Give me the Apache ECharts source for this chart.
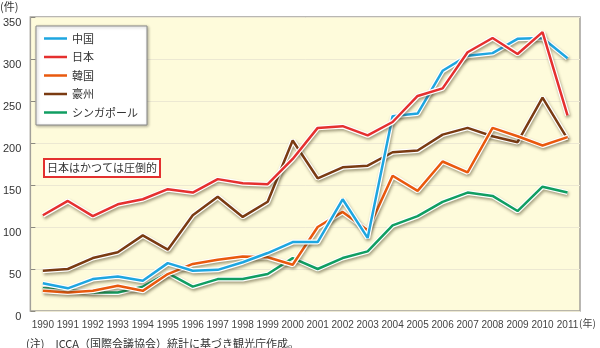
<!DOCTYPE html>
<html>
<head>
<meta charset="utf-8">
<script src="https://cdn.jsdelivr.net/npm/echarts@6/dist/echarts.min.js"></script>
<style>
  html, body { margin: 0; padding: 0; background: #fff; }
  #chart { width: 600px; height: 348px; }
</style>
</head>
<body>
<div id="chart"></div>
<script>
// 国際会議開催件数の推移（1990〜2011年）
const years = ['1990','1991','1992','1993','1994','1995','1996','1997','1998','1999','2000',
               '2001','2002','2003','2004','2005','2006','2007','2008','2009','2010','2011'];
const yTicks = { min: 0, max: 350, interval: 50 };

const china     = [33, 27, 38, 41, 36, 57, 48, 49, 58, 69, 82, 82, 133, 87, 232, 235, 286, 304, 307, 324, 325, 301];
const japan     = [114, 131, 113, 127, 133, 145, 141, 157, 152, 151, 181, 218, 220, 209, 225, 256, 265, 308, 325, 306, 332, 233];
const korea     = [24, 22, 24, 30, 24, 44, 56, 61, 65, 64, 55, 100, 118, 96, 161, 143, 178, 165, 218, 208, 197, 207];
const australia = [48, 50, 63, 70, 90, 73, 114, 136, 112, 130, 203, 158, 171, 173, 189, 191, 210, 218, 208, 201, 254, 205];
const singapore = [27, 26, 22, 22, 29, 45, 29, 38, 38, 44, 63, 50, 63, 71, 102, 113, 130, 141, 137, 119, 148, 141];

const seriesDefs = [
  { name: 'シンガポール', data: singapore, color: '#109e62' },
  { name: '豪州',         data: australia, color: '#7a3b12' },
  { name: '韓国',         data: korea,     color: '#e9590e' },
  { name: '中国',         data: china,     color: '#1ea6e0' },
  { name: '日本',         data: japan,     color: '#e5302f' }
];
const legendOrder = ['中国', '日本', '韓国', '豪州', 'シンガポール'];

const FONT = '"Noto Sans CJK JP", "Liberation Sans", sans-serif';

// each line: white casing with a soft drop shadow, then the coloured stroke on top
const series = [];
seriesDefs.forEach(function (d) {
  series.push({
    name: d.name + '_casing',
    type: 'line',
    data: d.data,
    symbol: 'none',
    silent: true,
    legendHoverLink: false,
    lineStyle: {
      color: '#ffffff',
      width: 5,
      shadowColor: 'rgba(60,50,20,0.45)',
      shadowBlur: 3,
      shadowOffsetX: 1,
      shadowOffsetY: 2
    },
    animation: false
  });
  series.push({
    name: d.name,
    type: 'line',
    data: d.data,
    symbol: 'none',
    lineStyle: { color: d.color, width: 2.5 },
    itemStyle: { color: d.color },
    animation: false
  });
});

const chart = echarts.init(document.getElementById('chart'), null, { renderer: 'canvas' });
chart.setOption({
  backgroundColor: '#ffffff',
  textStyle: { fontFamily: FONT },
  grid: {
    left: 26, top: 17, width: 554, height: 294,
    show: true,
    backgroundColor: '#fefbdb',
    borderColor: '#a2a09a',
    borderWidth: 1.5
  },
  legend: {
    data: legendOrder,
    orient: 'vertical',
    left: 36, top: 26,
    padding: [7, 9, 7, 8],
    itemWidth: 23, itemHeight: 14, itemGap: 7.5,
    backgroundColor: '#ffffff',
    borderColor: '#8a8a8a',
    borderWidth: 1,
    shadowColor: 'rgba(0,0,0,0.3)',
    shadowBlur: 3, shadowOffsetX: 1, shadowOffsetY: 1,
    icon: 'path://M0,0 L23,0 L23,2.5 L0,2.5 Z',
    textStyle: { fontSize: 11, color: '#333', fontFamily: FONT }
  },
  xAxis: {
    type: 'category',
    data: years,
    boundaryGap: true,
    axisLine: { show: false },
    axisTick: { show: false },
    axisLabel: {
      interval: 0, fontSize: 10, color: '#444', margin: 9,
      fontFamily: '"Liberation Sans Narrow", "Liberation Sans", sans-serif'
    },
    splitLine: { show: false }
  },
  yAxis: {
    type: 'value',
    min: yTicks.min, max: yTicks.max, interval: yTicks.interval,
    axisLine: { show: false },
    axisTick: { show: true, inside: true, length: 5, lineStyle: { color: '#8c8a80' } },
    axisLabel: { fontSize: 11, color: '#333', margin: 9, verticalAlign: 'top',
                 fontFamily: '"Liberation Sans", sans-serif' },
    splitLine: { show: true, lineStyle: { color: '#ece8d2', width: 1 } }
  },
  graphic: [
    { type: 'text', left: 0, top: 1,
      style: { text: '(件)', fontSize: 11, fill: '#333', fontFamily: FONT } },
    { type: 'text', left: 579, top: 318,
      style: { text: '(年)', fontSize: 10, fill: '#444', fontFamily: FONT } },
    { type: 'group', left: 43, top: 158, children: [
      { type: 'rect', shape: { x: 0, y: 0, width: 116, height: 18 },
        style: { fill: '#ffffff', stroke: '#e3302f', lineWidth: 2 } },
      { type: 'text', x: 58, y: 9,
        style: { text: '日本はかつては圧倒的', fontSize: 11, fill: '#333',
                 align: 'center', verticalAlign: 'middle', fontFamily: FONT } }
    ] },
    { type: 'text', left: 26, top: 338,
      style: { text: '(注)　ICCA（国際会議協会）統計に基づき観光庁作成。', fontSize: 11,
               fill: '#333', fontFamily: FONT } }
  ],
  series: series
});
</script>
</body>
</html>
